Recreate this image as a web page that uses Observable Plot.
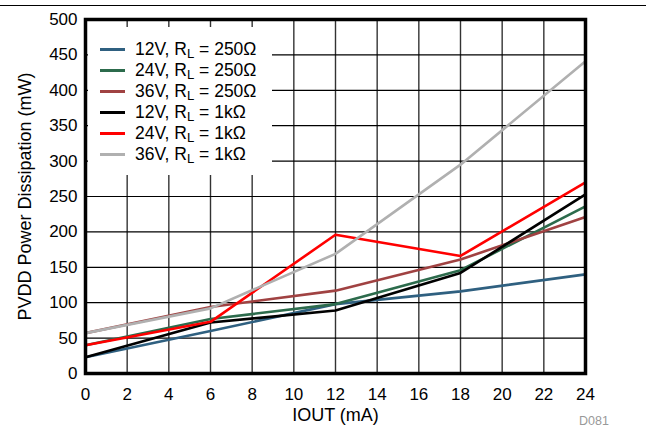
<!DOCTYPE html>
<html><head><meta charset="utf-8">
<script src="https://cdn.jsdelivr.net/npm/d3@7"></script>
<script src="https://cdn.jsdelivr.net/npm/@observablehq/plot@0.6"></script>
<style>
body{margin:0;background:#fff;font-family:"Liberation Sans",Arial,sans-serif;}
#wrap{position:relative;width:646px;height:428px;}
#topline{position:absolute;left:0;top:5px;width:646px;height:1px;background:#000;}
#legend{position:absolute;left:88px;top:27px;width:184px;height:148px;background:#fff;font-size:17.5px;color:#000;}
.item{position:absolute;left:12px;height:20px;display:flex;align-items:center;white-space:nowrap;}
.sw{display:inline-block;width:25px;height:3px;margin-right:10px;}
sub{font-size:0.75em;vertical-align:-0.25em;line-height:0;}
#code{position:absolute;left:579px;top:414px;font-size:12.5px;color:#999;}
</style></head>
<body><div id="wrap"><div id="topline"></div><div id="chart"></div><div id="legend"></div><div id="code">D081</div></div>
<script>
const currents = [0, 6, 12, 18, 24];
const v12_250 = [23, 60, 98, 116, 140];
const v24_250 = [40, 77, 98, 146, 236];
const v36_250 = [57, 94, 117, 161, 221];
const v12_1k = [23, 72, 89, 142, 253];
const v24_1k = [40, 73, 196, 166, 270];
const v36_1k = [57, 92, 169, 295, 441];
const seriesNames = ["12V, R_L = 250Ω","24V, R_L = 250Ω","36V, R_L = 250Ω","12V, R_L = 1kΩ","24V, R_L = 1kΩ","36V, R_L = 1kΩ"];
const seriesColors = ["#2f6080","#2c6b4c","#a04242","#000000","#ff0000","#b0b0b0"];
const xTicks = [0,2,4,6,8,10,12,14,16,18,20,22,24];
const yTicks = [0,50,100,150,200,250,300,350,400,450,500];

const allSeries = [v12_250, v24_250, v36_250, v12_1k, v24_1k, v36_1k];
const rows = [];
allSeries.forEach((vals, si) => vals.forEach((v, i) => rows.push({s: si, x: currents[i], y: v})));

const font = "Liberation Sans, Arial, sans-serif";
const lineMarks = allSeries.map((_, si) =>
  Plot.line(rows.filter(r => r.s === si), {x: "x", y: "y", stroke: seriesColors[si], strokeWidth: 2.6}));

const chart = Plot.plot({
  width: 646, height: 428,
  marginLeft: 85, marginRight: 61, marginTop: 19, marginBottom: 55,
  style: {fontFamily: font, fontSize: "17px", color: "#000", background: "transparent"},
  x: {domain: [0, 24]},
  y: {domain: [0, 500]},
  marks: [
    Plot.ruleX(xTicks, {stroke: "#333", strokeWidth: 1.4}),
    Plot.ruleY(yTicks, {stroke: "#000", strokeWidth: 1.2}),
    ...lineMarks,
    Plot.frame({stroke: "#000", strokeWidth: 3.5}),
    Plot.axisX({ticks: xTicks, tickSize: 0, tickPadding: 14, label: null, fontSize: 17}),
    Plot.axisX({ticks: [], tickSize: 0, label: "IOUT (mA)", labelAnchor: "center", labelArrow: "none", labelOffset: 47, fontSize: 18}),
    Plot.axisY({ticks: yTicks, tickSize: 0, tickPadding: 8, label: null, fontSize: 17}),
    Plot.axisY({ticks: [], tickSize: 0, label: "PVDD Power Dissipation (mW)", labelAnchor: "center", labelArrow: "none", labelOffset: 67, fontSize: 18})
  ]
});
document.getElementById("chart").appendChild(chart);

const legend = document.getElementById("legend");
seriesNames.forEach((name, i) => {
  const d = document.createElement("div");
  d.className = "item";
  d.style.top = (12 + i * 21) + "px";
  const parts = name.split("R_L");
  d.innerHTML = `<span class="sw" style="background:${seriesColors[i]}"></span><span>${parts[0]}R<sub>L</sub>${parts[1]}</span>`;
  legend.appendChild(d);
});
</script></body></html>
